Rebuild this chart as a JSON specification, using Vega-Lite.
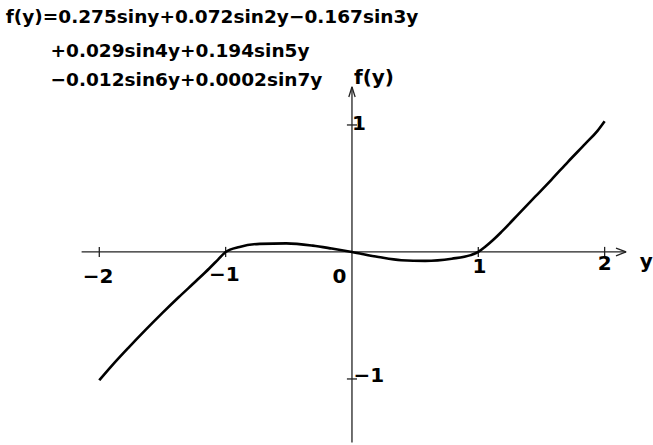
{
  "$schema": "https://vega.github.io/schema/vega-lite/v6.json",
  "width": 653,
  "height": 445,
  "autosize": {"type": "fit", "contains": "padding"},
  "padding": 0,
  "background": "white",
  "config": {"view": {"stroke": null}},
  "datasets": {
    "curve": [
      {"y": -2.0, "f": -1.01}, {"y": -1.9, "f": -0.895}, {"y": -1.77, "f": -0.755},
      {"y": -1.63, "f": -0.61}, {"y": -1.5, "f": -0.48}, {"y": -1.37, "f": -0.355},
      {"y": -1.23, "f": -0.225}, {"y": -1.13, "f": -0.13}, {"y": -1.06, "f": -0.06},
      {"y": -1.0, "f": 0.0}, {"y": -0.89, "f": 0.04}, {"y": -0.73, "f": 0.064},
      {"y": -0.52, "f": 0.068}, {"y": -0.31, "f": 0.05}, {"y": -0.16, "f": 0.027},
      {"y": 0.0, "f": 0.0}, {"y": 0.21, "f": -0.04}, {"y": 0.39, "f": -0.065},
      {"y": 0.58, "f": -0.07}, {"y": 0.79, "f": -0.053}, {"y": 0.94, "f": -0.025},
      {"y": 1.0, "f": 0.0}, {"y": 1.05, "f": 0.037}, {"y": 1.11, "f": 0.088},
      {"y": 1.185, "f": 0.16}, {"y": 1.32, "f": 0.3}, {"y": 1.45, "f": 0.435},
      {"y": 1.58, "f": 0.57}, {"y": 1.71, "f": 0.71}, {"y": 1.85, "f": 0.855},
      {"y": 1.94, "f": 0.95}, {"y": 2.0, "f": 1.03}
    ],
    "axes": [
      {"x": -2.14, "x2": 2.17, "y": 0, "y2": 0},
      {"x": 0, "x2": 0, "y": -1.5, "y2": 1.3},
      {"x": -2, "x2": -2, "y": -0.04, "y2": 0.04},
      {"x": -1, "x2": -1, "y": -0.04, "y2": 0.04},
      {"x": 1, "x2": 1, "y": -0.04, "y2": 0.04},
      {"x": 2, "x2": 2, "y": -0.04, "y2": 0.04},
      {"x": -0.04, "x2": 0.04, "y": 1, "y2": 1},
      {"x": -0.04, "x2": 0.04, "y": -1, "y2": -1},
      {"x": 2.09, "x2": 2.17, "y": 0.03, "y2": 0},
      {"x": 2.09, "x2": 2.17, "y": -0.03, "y2": 0},
      {"x": -0.025, "x2": 0, "y": 1.22, "y2": 1.3},
      {"x": 0.025, "x2": 0, "y": 1.22, "y2": 1.3}
    ],
    "labels": [
      {"x": -2.01, "y": -0.197, "text": "−2"},
      {"x": -1.01, "y": -0.18, "text": "−1"},
      {"x": -0.1, "y": -0.197, "text": "0"},
      {"x": 1.01, "y": -0.118, "text": "1"},
      {"x": 2.0, "y": -0.094, "text": "2"},
      {"x": 2.33, "y": -0.08, "text": "y"},
      {"x": 0.055, "y": 1.008, "text": "1"},
      {"x": 0.134, "y": -0.976, "text": "−1"},
      {"x": 0.174, "y": 1.37, "text": "f(y)"}
    ],
    "formula": [
      {"x": -2.74, "y": 1.85, "text": "f(y)=0.275siny+0.072sin2y−0.167sin3y"},
      {"x": -2.386, "y": 1.583, "text": "+0.029sin4y+0.194sin5y"},
      {"x": -2.386, "y": 1.354, "text": "−0.012sin6y+0.0002sin7y"}
    ]
  },
  "layer": [
    {
      "data": {"name": "axes"},
      "mark": {"type": "rule", "color": "#222", "strokeWidth": 1.3},
      "encoding": {
        "x": {"field": "x", "type": "quantitative", "scale": {"domain": [-2.786, 2.367], "nice": false, "zero": false}, "axis": null},
        "x2": {"field": "x2"},
        "y": {"field": "y", "type": "quantitative", "scale": {"domain": [-1.52, 1.984], "nice": false, "zero": false}, "axis": null},
        "y2": {"field": "y2"}
      }
    },
    {
      "data": {"name": "curve"},
      "mark": {"type": "line", "color": "black", "strokeWidth": 2.6, "interpolate": "monotone"},
      "encoding": {
        "x": {"field": "y", "type": "quantitative"},
        "y": {"field": "f", "type": "quantitative"}
      }
    },
    {
      "data": {"name": "labels"},
      "mark": {"type": "text", "font": "DejaVu Sans", "fontWeight": "bold", "fontSize": 20, "align": "center", "baseline": "middle", "color": "black"},
      "encoding": {
        "x": {"field": "x", "type": "quantitative"},
        "y": {"field": "y", "type": "quantitative"},
        "text": {"field": "text"}
      }
    },
    {
      "data": {"name": "formula"},
      "mark": {"type": "text", "font": "DejaVu Sans", "fontWeight": "bold", "fontSize": 18.5, "align": "left", "baseline": "middle", "color": "black"},
      "encoding": {
        "x": {"field": "x", "type": "quantitative"},
        "y": {"field": "y", "type": "quantitative"},
        "text": {"field": "text"}
      }
    }
  ]
}
